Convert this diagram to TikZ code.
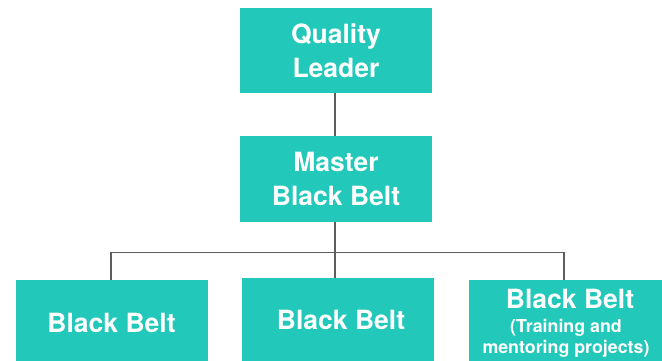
\documentclass[tikz,border=0pt]{standalone}
\usepackage{fontspec}
\setmainfont{TeX Gyre Heros}
\definecolor{teal1}{HTML}{22C8B9}
\definecolor{linegray}{HTML}{5E5E5E}
\tikzset{
  box/.style={rectangle, fill=teal1, draw=none, inner sep=0pt, minimum width=192pt, minimum height=85pt},
  lowbox/.style={rectangle, fill=teal1, draw=none, inner sep=0pt, minimum width=192pt, minimum height=100pt},
  bigtxt/.style={text=white, font=\fontsize{26.5}{34.5}\selectfont\bfseries, align=center, inner sep=0pt},
  smalltxt/.style={text=white, font=\fontsize{17.8}{21.5}\selectfont\bfseries, align=center, inner sep=0pt},
  conn/.style={draw=linegray, line width=1.2pt}
}
\begin{document}
\begin{tikzpicture}[x=1pt,y=-1pt]
\useasboundingbox (0,0) rectangle (662,360);
\clip (0,0) rectangle (662,360);
% boxes
\node[box, bigtxt] (ql) at (336,50.5) {Quality\\Leader};
\node[box, bigtxt, minimum height=85.5pt] (mbb) at (336,178.75) {Master\\Black Belt};
\node[lowbox] (b1) at (112,330) {};
\node[lowbox] (b2) at (338,328) {};
\node[lowbox, minimum width=193pt] (b3) at (565.5,330) {};
% texts in lower boxes
\node[bigtxt, anchor=base] (t1) at (111.5,332) {Black Belt};
\node[bigtxt, anchor=base] (t2) at (341,329) {Black Belt};
\node[bigtxt, anchor=base] (t3) at (570,308) {Black Belt};
\node[smalltxt, anchor=base] (t3a) at (566,332) {(Training and};
\node[smalltxt, anchor=base] (t3b) at (566,353.5) {mentoring projects)};
% connectors
\coordinate (j) at (335,252.5);
\draw[conn] (ql.south -| j) -- (mbb.north -| j);
\draw[conn] (mbb.south -| j) -- (j);
\draw[conn] ([xshift=-1pt]b1.north) |- (j) -| ([xshift=-1.5pt]b3.north);
\draw[conn] (j) -- (b2.north -| j);
\end{tikzpicture}
\end{document}
